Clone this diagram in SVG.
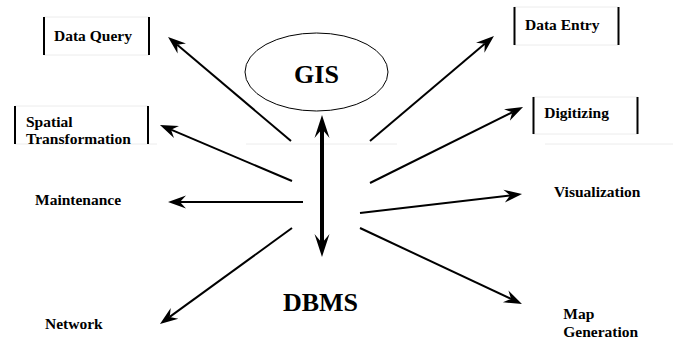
<svg xmlns="http://www.w3.org/2000/svg" width="673" height="342" viewBox="0 0 673 342">
<style>
  text { font-family: 'Liberation Serif', 'DejaVu Serif', serif; font-weight: 700; fill: #000; }
  .lbl { font-size: 15.5px; }
  .big { font-size: 26px; }
  .bar { stroke: #000; stroke-width: 2; }
  .faint { stroke: #ececec; stroke-width: 1; }
  .conn { stroke: #000; stroke-width: 2; fill: none; marker-end: url(#ah); }
</style>
<defs>
  <marker id="ah" markerUnits="userSpaceOnUse" markerWidth="20" markerHeight="16" viewBox="0 -8 20 16" refX="6" refY="0" orient="auto">
    <path d="M18,0 L0,-6.5 L6,0 L0,6.5 Z" fill="#000"/>
  </marker>
  <marker id="ahb" markerUnits="userSpaceOnUse" markerWidth="26" markerHeight="18" viewBox="0 -9 26 18" refX="9" refY="0" orient="auto-start-reverse">
    <path d="M23,0 L0,-7.5 L9,0 L0,7.5 Z" fill="#000"/>
  </marker>
</defs>
<rect width="673" height="342" fill="#fff"/>

<g id="faint-lines">
  <line class="faint" x1="44" y1="17" x2="149" y2="17"/>
  <line class="faint" x1="44" y1="55" x2="149" y2="55"/>
  <line class="faint" x1="15" y1="106" x2="148" y2="106"/>
  <line class="faint" x1="15" y1="144" x2="157" y2="144"/>
  <line class="faint" x1="514" y1="7" x2="618" y2="7"/>
  <line class="faint" x1="514" y1="45" x2="618" y2="45"/>
  <line class="faint" x1="533" y1="97" x2="638" y2="97"/>
  <line class="faint" x1="533" y1="134" x2="638" y2="134"/>
  <line class="faint" x1="545" y1="144" x2="673" y2="144"/>
  <line class="faint" x1="246" y1="144" x2="397" y2="144"/>
</g>

<g id="gis">
  <ellipse cx="316.5" cy="72" rx="71.5" ry="39" fill="none" stroke="#000" stroke-width="1"/>
  <text class="big" font-family="Liberation Serif, serif" x="316.5" y="82.5" text-anchor="middle">GIS</text>
</g>

<g id="dbms">
  <text class="big" font-family="Liberation Serif, serif" x="320.5" y="311" text-anchor="middle">DBMS</text>
</g>

<g id="data-query">
  <line class="bar" x1="44" y1="17" x2="44" y2="55"/>
  <line class="bar" x1="149" y1="17" x2="149" y2="55"/>
  <text class="lbl" x="54" y="40.5">Data Query</text>
</g>

<g id="spatial-transformation">
  <line class="bar" x1="15" y1="106" x2="15" y2="144"/>
  <line class="bar" x1="148" y1="106" x2="148" y2="144"/>
  <text class="lbl" x="26" y="126.7">Spatial</text>
  <text class="lbl" x="26" y="144.3">Transformation</text>
</g>

<g id="maintenance">
  <text class="lbl" x="35" y="204.5">Maintenance</text>
</g>

<g id="network">
  <text class="lbl" x="45" y="329">Network</text>
</g>

<g id="data-entry">
  <line class="bar" x1="514.5" y1="7" x2="514.5" y2="45"/>
  <line class="bar" x1="618.5" y1="7" x2="618.5" y2="45"/>
  <text class="lbl" x="525" y="29.5">Data Entry</text>
</g>

<g id="digitizing">
  <line class="bar" x1="533.5" y1="97" x2="533.5" y2="134"/>
  <line class="bar" x1="637.5" y1="97" x2="637.5" y2="134"/>
  <text class="lbl" x="544.3" y="118.3">Digitizing</text>
</g>

<g id="visualization">
  <text class="lbl" x="554" y="197.3">Visualization</text>
</g>

<g id="map-generation">
  <text class="lbl" x="563.3" y="319.3">Map</text>
  <text class="lbl" x="563.3" y="336.7">Generation</text>
</g>

<g id="connectors">
  <line x1="322" y1="129" x2="322" y2="243" stroke="#000" stroke-width="4" marker-start="url(#ahb)" marker-end="url(#ahb)"/>
  <line class="conn" x1="291" y1="141" x2="177.2" y2="44.7"/>
  <line class="conn" x1="292" y1="181" x2="171" y2="129.7"/>
  <line class="conn" x1="303" y1="202" x2="180" y2="202"/>
  <line class="conn" x1="292" y1="228" x2="169.7" y2="316.9"/>
  <line class="conn" x1="370" y1="141" x2="484.8" y2="43.8"/>
  <line class="conn" x1="370" y1="183" x2="512.3" y2="112.3"/>
  <line class="conn" x1="360" y1="213" x2="510.1" y2="195.4"/>
  <line class="conn" x1="360" y1="228" x2="511.1" y2="298.9"/>
</g>
</svg>
